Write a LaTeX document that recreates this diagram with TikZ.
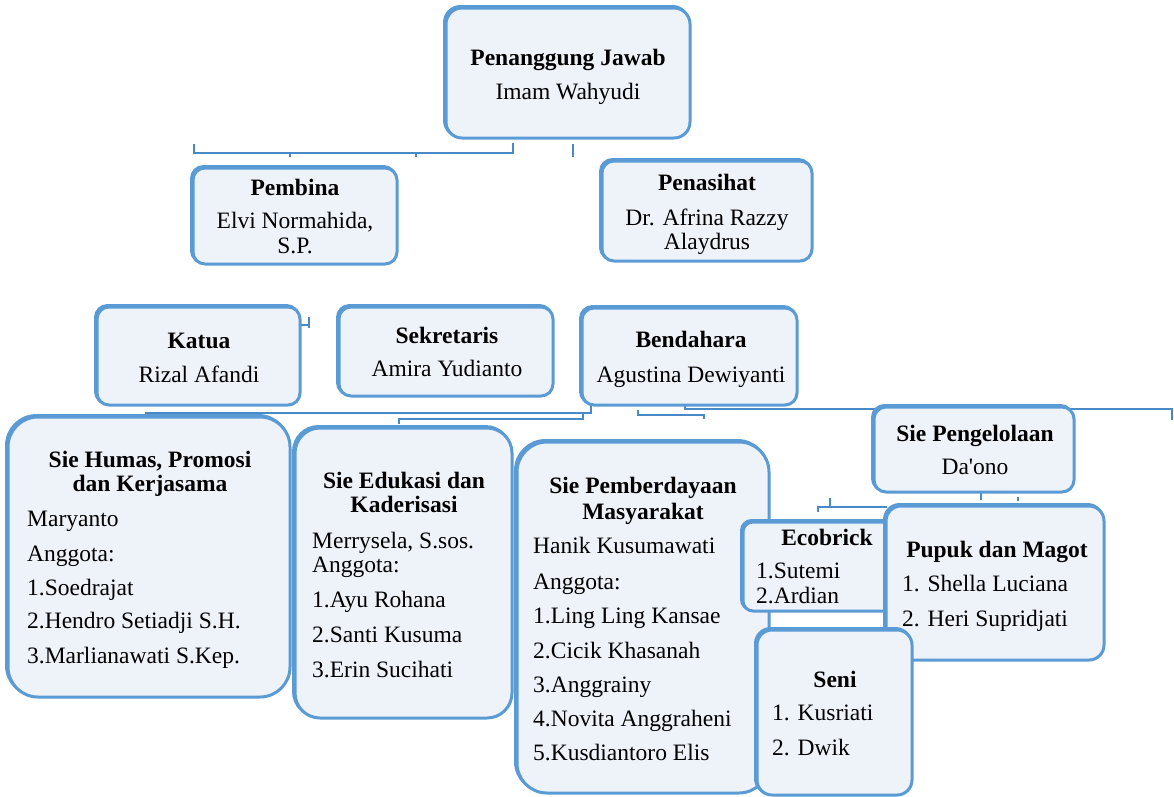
\documentclass[tikz,border=0pt]{standalone}
\usepackage{fontspec}
\setmainfont{Liberation Serif}
\definecolor{bord}{HTML}{5B9BD5}
\definecolor{boxfill}{HTML}{EEF3FA}
\definecolor{conn}{HTML}{4A89C8}
\tikzset{
  orgbox/.style={draw=bord, line width=3pt, fill=boxfill, inner sep=0pt,
    preaction={draw=bord, line width=3pt, transform canvas={shift={(-1.5pt,1.5pt)}}}},
  lbl/.style={font=\fontsize{23.5}{26}\selectfont, inner sep=0pt, anchor=base},
  lbll/.style={lbl, anchor=base west},
  ttl/.style={lbl, font=\fontsize{23.5}{26}\selectfont\bfseries},
  link/.style={draw=conn, line width=2.5pt},
}
\begin{document}
\begin{tikzpicture}[x=1pt,y=-1pt]
\useasboundingbox (0,0) rectangle (1174,796);
% ---------- connectors ----------
\coordinate (k1) at (194,144);
\coordinate (k2) at (513,143);
\coordinate (k3) at (290,157);
\coordinate (k4) at (416,157);
\coordinate (k5) at (573,144);
\coordinate (k6) at (573,157);
\draw[link] (k1) |- (k2 |- 0,153) -- (k2);
\draw[link] (k3) -- (k3 |- 0,153);
\draw[link] (k4) -- (k4 |- 0,153);
\draw[link] (k5) -- (k6);
\coordinate (q1) at (300,325);
\coordinate (q2) at (309,317);
\draw[link] (q1) -| (309,328) (q2) -- (309,328);
\coordinate (b1) at (591,405);
\coordinate (b2) at (145,413);
\draw[link] (b1) |- (b2);
\coordinate (b3) at (583,413);
\coordinate (b4) at (399,424);
\draw[link] (b3) |- (399,419) -- (b4);
\coordinate (b5) at (638,410);
\coordinate (b6) at (704,419);
\draw[link] (b5) |- (704,415) -- (b6);
\coordinate (b7) at (685,405);
\coordinate (b8) at (1172,420);
\draw[link] (b7) |- (1172,409) -- (b8);
\coordinate (p1) at (818,512);
\coordinate (p2) at (887,507);
\draw[link] (p1) |- (p2);
\coordinate (p3) at (830,498);
\draw[link] (p3) -- (830,507);
\coordinate (p4) at (981,490);
\draw[link] (p4) -- (981,500);
\coordinate (p5) at (1018,497);
\draw[link] (p5) -- (1018,501);
% ---------- boxes ----------
\node[orgbox, rounded corners=16pt, minimum width=244pt, minimum height=130pt] (pj) at (568,73) {};
\node[orgbox, rounded corners=12pt, minimum width=204pt, minimum height=96pt] (pemb) at (295,216) {};
\node[orgbox, rounded corners=12pt, minimum width=210pt, minimum height=100pt] (penas) at (707,211) {};
\node[orgbox, rounded corners=12pt, minimum width=203pt, minimum height=98pt] (katua) at (198.5,356) {};
\node[orgbox, rounded corners=12pt, minimum width=214pt, minimum height=89pt] (sekr) at (446,351.5) {};
\node[orgbox, rounded corners=12pt, minimum width=215pt, minimum height=97pt] (bend) at (689.5,356.5) {};
\node[orgbox, rounded corners=30pt, minimum width=282pt, minimum height=280pt] (humas) at (149,557) {};
\node[orgbox, rounded corners=25pt, minimum width=217pt, minimum height=290pt] (eduk) at (403.5,573) {};
\node[orgbox, rounded corners=30pt, minimum width=252pt, minimum height=351pt] (pmd) at (643,617.5) {};
\node[orgbox, rounded corners=12pt, minimum width=200pt, minimum height=85pt] (peng) at (974,449.5) {};
\node[orgbox, rounded corners=10pt, minimum width=152pt, minimum height=89pt] (eco) at (819,566.5) {};
\node[orgbox, rounded corners=15pt, minimum width=218pt, minimum height=154pt] (pupuk) at (995,583) {};
\node[orgbox, rounded corners=15pt, minimum width=155pt, minimum height=165pt] (seni) at (834.5,712.5) {};
% ---------- texts ----------
\node[ttl] (pj1) at (568,65) {Penanggung Jawab};
\node[lbl] (pj2) at (568,99) {Imam Wahyudi};
\node[ttl] (pe1) at (295,195) {Pembina};
\node[lbl] (pe2) at (295,228) {Elvi Normahida,};
\node[lbl] (pe3) at (295,253) {S.P.};
\node[ttl] (pn1) at (707,190) {Penasihat};
\node[lbl] (pn2) at (707,225) {Dr. Afrina Razzy};
\node[lbl] (pn3) at (707,249) {Alaydrus};
\node[ttl] (ka1) at (199,348) {Katua};
\node[lbl] (ka2) at (199,382) {Rizal Afandi};
\node[ttl] (se1) at (447,343) {Sekretaris};
\node[lbl] (se2) at (447,376) {Amira Yudianto};
\node[ttl] (be1) at (691,347) {Bendahara};
\node[lbl] (be2) at (691,382) {Agustina Dewiyanti};
\node[ttl] (hu1) at (150,467) {Sie Humas, Promosi};
\node[ttl] (hu2) at (150,491) {dan Kerjasama};
\node[lbll] (hu3) at (27,526) {Maryanto};
\node[lbll] (hu4) at (27,561) {Anggota:};
\node[lbll] (hu5) at (27,595) {1.Soedrajat};
\node[lbll] (hu6) at (27,628) {2.Hendro Setiadji S.H.};
\node[lbll] (hu7) at (27,663) {3.Marlianawati S.Kep.};
\node[ttl] (ed1) at (404,488) {Sie Edukasi dan};
\node[ttl] (ed2) at (404,512) {Kaderisasi};
\node[lbll] (ed3) at (312,548) {Merrysela, S.sos.};
\node[lbll] (ed4) at (312,572) {Anggota:};
\node[lbll] (ed5) at (312,607) {1.Ayu Rohana};
\node[lbll] (ed6) at (312,642) {2.Santi Kusuma};
\node[lbll] (ed7) at (312,677) {3.Erin Sucihati};
\node[ttl] (pm1) at (643,493) {Sie Pemberdayaan};
\node[ttl] (pm2) at (643,519) {Masyarakat};
\node[lbll] (pm3) at (533,553) {Hanik Kusumawati};
\node[lbll] (pm4) at (533,589) {Anggota:};
\node[lbll] (pm5) at (533,623) {1.Ling Ling Kansae};
\node[lbll] (pm6) at (533,658) {2.Cicik Khasanah};
\node[lbll] (pm7) at (533,692) {3.Anggrainy};
\node[lbll] (pm8) at (533,726) {4.Novita Anggraheni};
\node[lbll] (pm9) at (533,760) {5.Kusdiantoro Elis};
\node[ttl] (pg1) at (975,441) {Sie Pengelolaan};
\node[lbl] (pg2) at (975,474) {Da\textquotesingle ono};
\node[ttl] (ec1) at (827,545) {Ecobrick};
\node[lbll] (ec2) at (756,578) {1.Sutemi};
\node[lbll] (ec3) at (756,603) {2.Ardian};
\node[ttl] (pu1) at (997,557) {Pupuk dan Magot};
\node[lbll] (pu2) at (902,591) {1. Shella Luciana};
\node[lbll] (pu3) at (902,626) {2. Heri Supridjati};
\node[ttl] (sn1) at (835,687) {Seni};
\node[lbll] (sn2) at (772,720) {1. Kusriati};
\node[lbll] (sn3) at (772,755) {2. Dwik};
\end{tikzpicture}
\end{document}
